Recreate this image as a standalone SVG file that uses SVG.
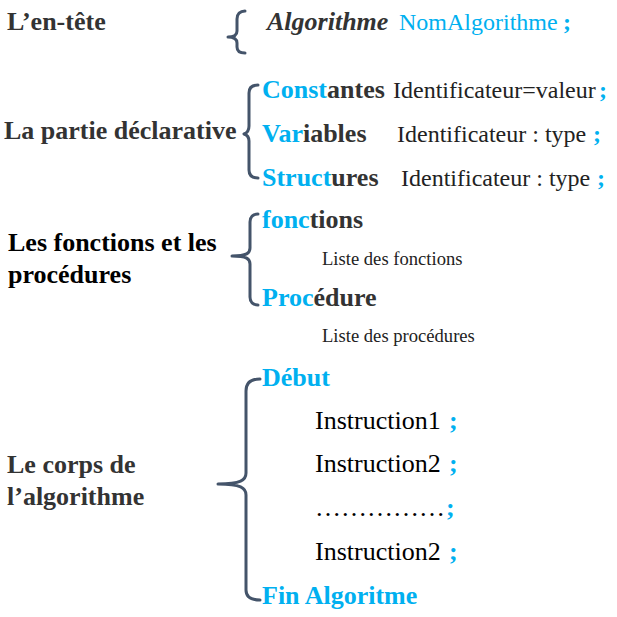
<svg xmlns="http://www.w3.org/2000/svg" width="617" height="617" viewBox="0 0 617 617">
<style>
text { font-family: "Liberation Serif", "Times New Roman", serif; }
.h { font-size: 26px; font-weight: bold; fill: #333333; }
.hk { font-size: 26px; font-weight: bold; fill: #000000; }
.kw { font-size: 26px; font-weight: bold; fill: #333333; }
.reg { font-size: 24px; fill: #222222; }
.small { font-size: 18.6px; fill: #222222; }
.ins { font-size: 26px; fill: #000000; }
.b { fill: #00B0F0; }
.semi { font-weight: bold; fill: #00B0F0; }
.brace { fill: none; stroke: #44546A; stroke-width: 3; stroke-linecap: round; stroke-linejoin: round; }
</style>
<rect width="617" height="617" fill="#ffffff"/>

<g id="connectors">
  <path class="brace" d="M245 11 C240 11 237 14 237 19 L237 31 C237 35 234 37 228 37 C234 37 237 39 237 43 L237 47 C237 51 240 53 245 53"/>
  <path class="brace" d="M258 85 C252 85 249 88 249 93 L249 126 C249 131 247 133 244 134 C247 135 249 137 249 141 L249 170 C249 175 252 178 258 178"/>
  <path class="brace" d="M258 214 C253 214 250 217 250 222 L250 248 C250 253 247 256 232 256 C247 256 250 259 250 264 L250 297 C250 302 253 305 258 305"/>
  <path class="brace" d="M260 379 C251 379 246 383 246 391 L246 473 C246 480 241 484 218 484 C241 484 246 488 246 495 L246 590 C246 597 251 600 260 600"/>
</g>

<g id="entete">
  <text class="h" x="7" y="30">L’en-tête</text>
</g>
<g id="entete-contenu">
  <text x="267" y="30"><tspan class="h" font-style="italic">Algorithme</tspan><tspan class="reg b" x="399">NomAlgorithme</tspan><tspan class="reg semi" x="563">;</tspan></text>
</g>

<g id="partie-declarative">
  <text class="h" x="4" y="139">La partie déclarative</text>
</g>
<g id="constantes">
  <text x="262" y="98"><tspan class="kw"><tspan class="b">Const</tspan>antes</tspan><tspan class="reg" x="393">Identificateur=valeur</tspan><tspan class="reg semi" x="599">;</tspan></text>
</g>
<g id="variables">
  <text x="262" y="142"><tspan class="kw"><tspan class="b">Var</tspan>iables</tspan><tspan class="reg" x="397">Identificateur : type</tspan><tspan class="reg semi" x="593">;</tspan></text>
</g>
<g id="structures">
  <text x="262" y="186"><tspan class="kw"><tspan class="b">Struct</tspan>ures</tspan><tspan class="reg" x="401">Identificateur : type</tspan><tspan class="reg semi" x="597">;</tspan></text>
</g>

<g id="fonctions-procedures">
  <text class="hk" x="8" y="251">Les fonctions et les</text>
  <text class="hk" x="8" y="283">procédures</text>
</g>
<g id="fonctions">
  <text class="kw" x="262" y="228"><tspan class="b">fonc</tspan>tions</text>
  <text class="small" x="322" y="265">Liste des fonctions</text>
</g>
<g id="procedure">
  <text class="kw" x="262" y="306"><tspan class="b">Proc</tspan>édure</text>
  <text class="small" x="322" y="342">Liste des procédures</text>
</g>

<g id="corps">
  <text class="h" x="7" y="473">Le corps de</text>
  <text class="h" x="7" y="505">l’algorithme</text>
</g>
<g id="debut">
  <text class="kw b" x="262" y="386">Début</text>
</g>
<g id="instructions">
  <text class="ins" x="315" y="429">Instruction1<tspan class="semi" x="449">;</tspan></text>
  <text class="ins" x="315" y="472">Instruction2<tspan class="semi" x="449">;</tspan></text>
  <text class="ins" x="315" y="516">……………<tspan class="semi" x="446">;</tspan></text>
  <text class="ins" x="315" y="560">Instruction2<tspan class="semi" x="449">;</tspan></text>
</g>
<g id="fin">
  <text class="kw b" x="262" y="604">Fin Algoritme</text>
</g>
</svg>
